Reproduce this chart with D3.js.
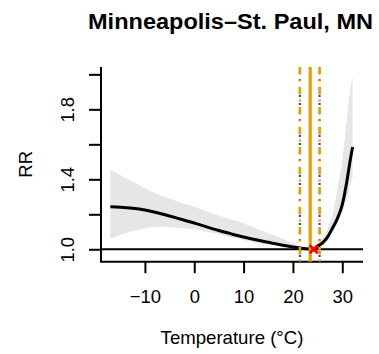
<!DOCTYPE html>
<html>
<head>
<meta charset="utf-8">
<script src="https://cdn.jsdelivr.net/npm/d3@7"></script>
<style>
  body { margin: 0; background: #fff; }
  svg text { font-family: "Liberation Sans", Arial, Helvetica, sans-serif; fill: #000; }
</style>
</head>
<body>
<svg id="chart" width="379" height="354"></svg>
<script>
// Exposure-response curve: relative risk of mortality by daily temperature
const temps  = [-17, -15, -12.5, -10, -7.5, -5, -2.5, 0, 2.5, 5, 7.5, 10, 12.5, 15, 17.5, 20, 22, 24.2, 25, 26, 27, 28, 29, 30, 31, 31.5, 32.1];
const rrFit  = [1.243, 1.240, 1.234, 1.224, 1.209, 1.190, 1.170, 1.150, 1.128, 1.107, 1.088, 1.070, 1.054, 1.040, 1.026, 1.013, 1.005, 1.000, 1.018, 1.037, 1.070, 1.120, 1.175, 1.255, 1.400, 1.490, 1.585];
const rrLow  = [1.059, 1.082, 1.104, 1.120, 1.129, 1.127, 1.121, 1.114, 1.100, 1.086, 1.068, 1.053, 1.038, 1.027, 1.018, 1.009, 1.003, 1.000, 1.008, 1.020, 1.050, 1.095, 1.150, 1.210, 1.300, 1.355, 1.410];
const rrHigh = [1.457, 1.425, 1.386, 1.349, 1.315, 1.290, 1.265, 1.243, 1.218, 1.193, 1.170, 1.149, 1.120, 1.092, 1.065, 1.035, 1.015, 1.000, 1.030, 1.060, 1.115, 1.200, 1.340, 1.510, 1.760, 1.890, 1.990];

const xTicks = [-10, 0, 10, 20, 30];
const yTicks = [1.0, 1.2, 1.4, 1.6, 1.8, 2.0];
const yTickLabels = ["1.0", "", "1.4", "", "1.8", ""];

// Reference temperatures: percentile cut-offs and the solid centre line
const pctLowTemp = 21.4;
const centreTemp = 23.5;
const pctHighTemp = 25.4;
// Minimum mortality temperature
const mmtTemp = 24.2;
const mmtRR = 1.0;

const titleText = "Minneapolis\u2013St. Paul, MN";
const xTitle = "Temperature (\u00B0C)";
const yTitle = "RR";

const plot = { left: 101, right: 363, top: 67, bottom: 261.7 };
const fontFamily = "Liberation Sans, Arial, sans-serif";
const orange = "#E69F00";

const svg = d3.select("#chart");

const x = d3.scaleLinear().domain([-18.9, 34.2]).range([plot.left, plot.right]);
const y = d3.scaleLinear().domain([0.929, 2.042]).range([plot.bottom, plot.top]);

const rows = temps.map((t, i) => ({ t, fit: rrFit[i], lo: rrLow[i], hi: rrHigh[i] }));

// Confidence band
svg.append("path")
  .datum(rows)
  .attr("fill", "#e6e6e6")
  .attr("d", d3.area()
    .x(d => x(d.t))
    .y0(d => y(d.lo))
    .y1(d => y(d.hi))
    .curve(d3.curveMonotoneX));

// Fitted curve
svg.append("path")
  .datum(rows)
  .attr("fill", "none")
  .attr("stroke", "#000")
  .attr("stroke-width", 3)
  .attr("stroke-linejoin", "round")
  .attr("d", d3.line()
    .x(d => x(d.t))
    .y(d => y(d.fit))
    .curve(d3.curveMonotoneX));

// Reference line at RR = 1
svg.append("line")
  .attr("x1", plot.left).attr("x2", plot.right)
  .attr("y1", y(1)).attr("y2", y(1))
  .attr("stroke", "#000").attr("stroke-width", 2);

// L-shaped frame
svg.append("path")
  .attr("d", `M${plot.left},${plot.top}V${plot.bottom}H${plot.right}`)
  .attr("fill", "none").attr("stroke", "#000").attr("stroke-width", 2);

// X axis
const gx = svg.append("g")
  .attr("transform", `translate(0,${plot.bottom})`)
  .call(d3.axisBottom(x)
    .tickValues(xTicks)
    .tickSize(11.5)
    .tickFormat(d => d < 0 ? "\u2212" + Math.abs(d) : String(d)));
gx.select(".domain").remove();
gx.selectAll(".tick line").attr("stroke", "#000").attr("stroke-width", 2);
gx.selectAll(".tick text")
  .attr("y", 41.3).attr("dy", null)
  .attr("font-size", 18.4)
  .attr("font-family", fontFamily)
  .attr("fill", "#000");

// Y axis with rotated labels
const gy = svg.append("g")
  .attr("transform", `translate(${plot.left},0)`)
  .call(d3.axisLeft(y)
    .tickValues(yTicks)
    .tickSize(12)
    .tickFormat((d, i) => yTickLabels[i]));
gy.select(".domain").remove();
gy.selectAll(".tick line").attr("stroke", "#000").attr("stroke-width", 2);
gy.selectAll(".tick text")
  .attr("transform", "rotate(-90)")
  .attr("x", 0).attr("y", -27).attr("dy", null)
  .attr("text-anchor", "middle")
  .attr("font-size", 18.4)
  .attr("font-family", fontFamily)
  .attr("fill", "#000");

// Vertical reference lines: blue dotted underneath, orange dot-dash on top
const vlines = svg.append("g");
[pctLowTemp, pctHighTemp].forEach(t => {
  vlines.append("line")
    .attr("x1", x(t)).attr("x2", x(t))
    .attr("y1", plot.top).attr("y2", plot.bottom)
    .attr("stroke", "#2b2bff").attr("stroke-width", 2)
    .attr("stroke-dasharray", "2,6")
    .attr("stroke-dashoffset", -12);
});
[pctLowTemp, pctHighTemp].forEach(t => {
  vlines.append("line")
    .attr("x1", x(t)).attr("x2", x(t))
    .attr("y1", plot.top).attr("y2", plot.bottom)
    .attr("stroke", orange).attr("stroke-width", 2.6)
    .attr("stroke-dasharray", "7.5,5,2,5.5");
});
vlines.append("line")
  .attr("x1", x(centreTemp)).attr("x2", x(centreTemp))
  .attr("y1", plot.top).attr("y2", plot.bottom)
  .attr("stroke", orange).attr("stroke-width", 3.2);

// Minimum mortality temperature marker
const mx = x(mmtTemp), my = y(mmtRR), s = 4;
svg.append("path")
  .attr("d", `M${mx - s},${my - s}L${mx + s},${my + s}M${mx - s},${my + s}L${mx + s},${my - s}`)
  .attr("stroke", "#ff0000").attr("stroke-width", 2.6).attr("fill", "none");

// Titles
svg.append("text")
  .attr("x", (plot.left + plot.right) / 2 - 1.5).attr("y", 29.4)
  .attr("text-anchor", "middle")
  .attr("font-size", 22).attr("font-weight", "bold")
  .attr("textLength", 285).attr("lengthAdjust", "spacingAndGlyphs")
  .text(titleText);

svg.append("text")
  .attr("x", (plot.left + plot.right) / 2).attr("y", 344)
  .attr("text-anchor", "middle")
  .attr("font-size", 18.6)
  .text(xTitle);

svg.append("text")
  .attr("transform", `translate(31.5,${(plot.top + plot.bottom) / 2}) rotate(-90)`)
  .attr("text-anchor", "middle")
  .attr("font-size", 18.6)
  .text(yTitle);
</script>
</body>
</html>
